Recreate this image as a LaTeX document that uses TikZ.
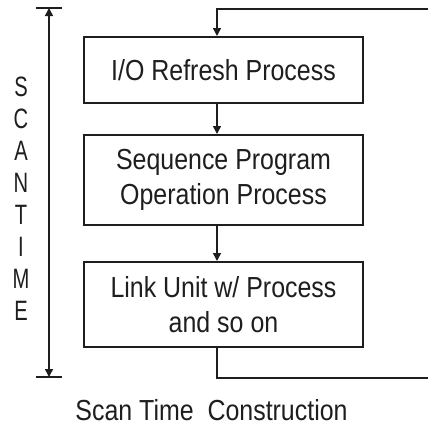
\documentclass[tikz,border=0pt]{standalone}
\usepackage{fontspec}
\setmainfont{Liberation Sans}[FakeStretch=0.86]
\newfontfamily\narrowsans{Liberation Sans}[FakeStretch=0.72]
\usetikzlibrary{arrows.meta}
\definecolor{ink}{HTML}{1E1E1E}
\begin{document}
\begin{tikzpicture}[x=1pt,y=1pt,
  every node/.style={text=ink,font=\fontsize{29}{35}\selectfont},
  procbox/.style={draw=ink,line width=2pt,minimum width=279pt,inner sep=0pt,align=center},
  flow/.style={draw=ink,line width=1.6pt},
  tri/.style={-{Triangle[width=8pt,length=8pt]}},
  vlabel/.style={anchor=north,inner sep=0pt,align=center,font=\narrowsans\fontsize{28}{31.9}\selectfont}]
\useasboundingbox (0,0) rectangle (428,-426);
\fill[white] (0,0) rectangle (428,-426);

% process boxes
\node[procbox,minimum height=66pt] (b1) at (223.5,-70) {I/O Refresh Process};
\node[procbox,minimum height=90pt] (b2) at (223.5,-180) {Sequence Program\\Operation Process};
\node[procbox,minimum height=85pt] (b3) at (223.5,-304.5) {Link Unit w/ Process\\and so on};

% connector column and loop ends
\coordinate (cx) at (217,0);
\coordinate (tr) at (429,-9);
\coordinate (br) at (429,-378);

\draw[flow,tri] (tr) -- (cx |- tr) -- (cx |- b1.north);
\draw[flow,tri] (cx |- b1.south) -- (cx |- b2.north);
\draw[flow,tri] (cx |- b2.south) -- (cx |- b3.north);
\draw[flow] (cx |- b3.south) -- (cx |- br) -- (br);

% scan time dimension
\coordinate (st) at (49,-8);
\coordinate (sb) at (49,-377);
\coordinate (stl) at (36,-8);
\coordinate (str) at (62,-8);
\coordinate (sbl) at (36,-377);
\coordinate (sbr) at (62,-377);
\draw[flow] (stl) -- (str);
\draw[flow] (sbl) -- (sbr);
\draw[flow,{Triangle[width=8pt,length=8pt]}-{Triangle[width=8pt,length=8pt]}] (st) -- (sb);

% vertical label
\node[vlabel] (scan) at (21,-77) {S\\C\\A\\N\\T\\I\\M\\E};

% caption
\node[anchor=base,inner sep=0pt] (cap) at (211.5,-420) {Scan Time\ \ Construction};
\end{tikzpicture}
\end{document}
